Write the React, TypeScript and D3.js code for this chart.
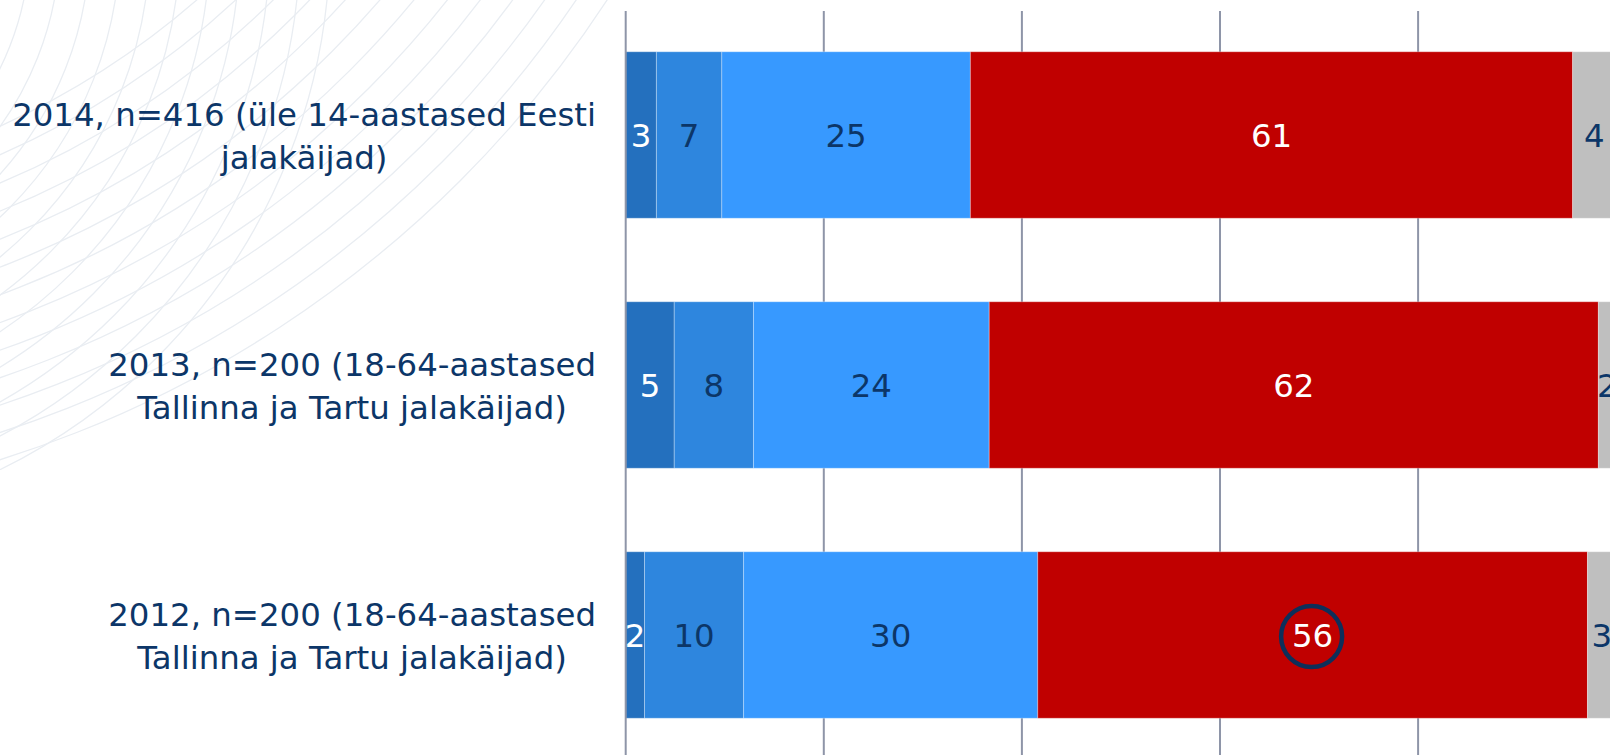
import { range, scaleBand, scaleLinear, select } from "d3";
import { useEffect, useRef } from "react";

// categories (top to bottom) and their two-line axis labels
const categories = ["2014", "2013", "2012"];
const labelLine1 = [
  "2014, n=416 (üle 14-aastased Eesti",
  "2013, n=200 (18-64-aastased",
  "2012, n=200 (18-64-aastased",
];
const labelLine2 = [
  "jalakäijad)",
  "Tallinna ja Tartu jalakäijad)",
  "Tallinna ja Tartu jalakäijad)",
];

// stacked shares in % (labels show them rounded)
const series1 = [3.1, 4.9, 1.9];
const series2 = [6.6, 8.0, 10.0];
const series3 = [25.1, 23.8, 29.7];
const series4 = [60.8, 61.5, 55.5];
const series5 = [4.4, 1.8, 2.9];
const allSeries = [series1, series2, series3, series4, series5];

const gridTicks = [0, 20, 40, 60, 80, 100];

// the value circled in the original slide
const circledCategory = "2012";
const circledSeries = 3;

const WIDTH = 1610;
const HEIGHT = 755;
const FONT = "'DejaVu Sans', Verdana, sans-serif";

const fills = ["#2470BE", "#2E86DE", "#3799FF", "#C00000", "#BFBFBF"];
const labelFills = ["#ffffff", "#0C3668", "#0C3668", "#ffffff", "#0C3668"];
const navy = "#0C3668";

const draw = (el: SVGSVGElement) => {
  const svg = select(el);
  svg.selectAll("*").remove();

  const x = scaleLinear().domain([0, 100]).range([625.7, 1616.2]);
  const y = scaleBand<string>()
    .domain(categories)
    .range([10, 760])
    .paddingInner(0.334)
    .paddingOuter(0.167);

  // faint decorative arcs behind the category labels
  const defs = svg.append("defs");
  defs
    .append("clipPath")
    .attr("id", "deco-clip")
    .append("rect")
    .attr("x", 0)
    .attr("y", 0)
    .attr("width", 622)
    .attr("height", 470);
  const deco = svg
    .append("g")
    .attr("clip-path", "url(#deco-clip)")
    .attr("fill", "none")
    .attr("stroke", "#E9EDF2")
    .attr("stroke-width", 1.3);
  deco
    .selectAll("circle.a")
    .data(range(290, 600, 30))
    .join("circle")
    .attr("class", "a")
    .attr("cx", -260)
    .attr("cy", -60)
    .attr("r", (d) => d);
  deco
    .selectAll("circle.b")
    .data(range(820, 1140, 26))
    .join("circle")
    .attr("class", "b")
    .attr("cx", -340)
    .attr("cy", -620)
    .attr("r", (d) => d);

  // gridlines
  svg
    .append("g")
    .selectAll("line")
    .data(gridTicks.slice(1))
    .join("line")
    .attr("x1", (d) => x(d))
    .attr("x2", (d) => x(d))
    .attr("y1", 11)
    .attr("y2", HEIGHT)
    .attr("stroke", "#8E95A8")
    .attr("stroke-width", 2);

  // stacked segments
  const segs = categories.flatMap((c, i) => {
    let acc = 0;
    return allSeries.map((s, k) => {
      const start = acc;
      acc += s[i];
      return { c, k, start, end: acc, v: s[i] };
    });
  });

  svg
    .append("g")
    .selectAll("rect")
    .data(segs)
    .join("rect")
    .attr("x", (d) => x(d.start))
    .attr("y", (d) => y(d.c)!)
    .attr("width", (d) => x(d.end) - x(d.start))
    .attr("height", y.bandwidth())
    .attr("fill", (d) => fills[d.k])
    .attr("stroke", "#ffffff")
    .attr("stroke-opacity", 0.3)
    .attr("stroke-width", 1);

  // zero line on top of the bars
  svg
    .append("line")
    .attr("x1", x(0))
    .attr("x2", x(0))
    .attr("y1", 11)
    .attr("y2", HEIGHT)
    .attr("stroke", "#8E95A8")
    .attr("stroke-width", 2);

  const fs = 32.4;
  svg
    .append("g")
    .selectAll("text")
    .data(segs)
    .join("text")
    .attr("x", (d) => x((d.start + d.end) / 2))
    .attr("y", (d) => y(d.c)! + y.bandwidth() / 2 + fs * 0.364)
    .attr("text-anchor", "middle")
    .attr("font-family", FONT)
    .attr("font-size", fs)
    .attr("fill", (d) => labelFills[d.k])
    .text((d) => Math.round(d.v));

  const hl = segs.find((d) => d.c === circledCategory && d.k === circledSeries)!;
  svg
    .append("circle")
    .attr("cx", x((hl.start + hl.end) / 2) - 1)
    .attr("cy", y(hl.c)! + y.bandwidth() / 2 + 1.5)
    .attr("r", 30.5)
    .attr("fill", "none")
    .attr("stroke", "#0E2F5A")
    .attr("stroke-width", 4.5);

  // category labels: two centred lines, block right-aligned to the axis
  const rightEdge = 596;
  categories.forEach((c, i) => {
    const cy = y(c)! + y.bandwidth() / 2;
    const g = svg
      .append("g")
      .attr("font-family", FONT)
      .attr("font-size", fs)
      .attr("fill", navy)
      .attr("text-anchor", "middle");
    const t1 = g.append("text").attr("y", cy - 9).text(labelLine1[i]);
    const t2 = g.append("text").attr("y", cy + 34).text(labelLine2[i]);
    const w = Math.max(
      (t1.node() as SVGTextElement).getComputedTextLength(),
      (t2.node() as SVGTextElement).getComputedTextLength()
    );
    const mid = rightEdge - w / 2;
    t1.attr("x", mid);
    t2.attr("x", mid);
  });
};

export default function App() {
  const ref = useRef<SVGSVGElement>(null);
  useEffect(() => {
    if (!ref.current) return;
    draw(ref.current);
  }, []);
  return (
    <svg
      ref={ref}
      width={WIDTH}
      height={HEIGHT}
      style={{ position: "absolute", left: 0, top: 0, background: "#fff" }}
    />
  );
}
